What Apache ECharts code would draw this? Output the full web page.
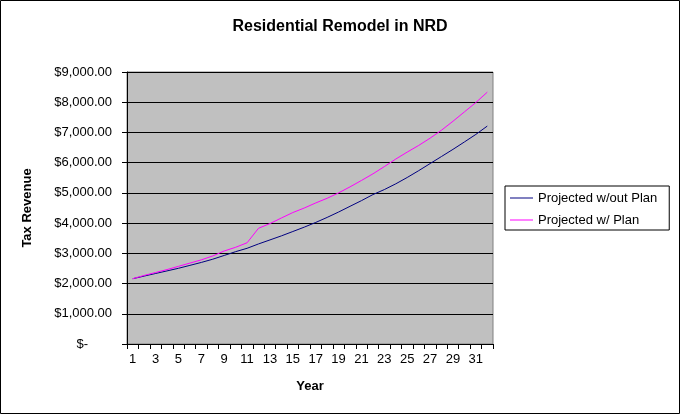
<!DOCTYPE html>
<html>
<head>
<meta charset="utf-8">
<script src="https://cdn.jsdelivr.net/npm/echarts@6/dist/echarts.min.js"></script>
<style>
html,body{margin:0;padding:0;background:#fff;}
#chart{width:680px;height:414px;}
</style>
</head>
<body>
<div id="chart"></div>
<script>
var years = [];
for (var y = 1; y <= 32; y++) years.push(String(y));
var withoutPlan = [2160, 2247, 2333, 2419, 2505, 2602, 2699, 2806, 2930, 3056, 3167, 3311, 3444, 3578, 3722, 3867, 4022, 4189, 4367, 4556, 4744, 4944, 5110, 5300, 5510, 5735, 5970, 6205, 6440, 6685, 6935, 7211];
var withPlan = [2160, 2269, 2366, 2462, 2570, 2677, 2785, 2914, 3078, 3200, 3350, 3830, 3985, 4170, 4350, 4500, 4667, 4822, 5000, 5200, 5411, 5630, 5870, 6120, 6350, 6570, 6810, 7075, 7370, 7680, 7990, 8333];
var seriesNames = ['Projected w/out Plan', 'Projected w/ Plan'];
var titleText = 'Residential Remodel in NRD';

var FONT = "'Liberation Sans', Arial, sans-serif";
var chart = echarts.init(document.getElementById('chart'), null, {renderer: 'canvas'});
chart.setOption({
  animation: false,
  backgroundColor: '#ffffff',
  textStyle: {fontFamily: FONT},
  title: {
    text: titleText, left: 'center', top: 19, padding: 0,
    textStyle: {fontFamily: FONT, fontSize: 16, fontWeight: 'bold', color: '#000'}
  },
  graphic: [{
    type: 'rect', shape: {x: 0.5, y: 0.5, width: 679, height: 413},
    style: {fill: 'none', stroke: '#000', lineWidth: 1}, silent: true, z: 100
  }],
  legend: {
    orient: 'vertical', left: 505, top: 186,
    padding: [5, 12, 3, 5], itemGap: 8, itemWidth: 23, itemHeight: 1,
    icon: 'rect',
    backgroundColor: '#fff', borderColor: '#000', borderWidth: 1,
    textStyle: {fontFamily: FONT, fontSize: 13, lineHeight: 14, color: '#000'},
    data: seriesNames
  },
  grid: {
    left: 127, right: 187, top: 72, bottom: 70,
    show: true, backgroundColor: '#C0C0C0', borderColor: '#808080', borderWidth: 1
  },
  xAxis: {
    type: 'category', data: years, boundaryGap: true,
    name: 'Year', nameLocation: 'middle', nameGap: 36,
    nameTextStyle: {fontFamily: FONT, fontSize: 13, fontWeight: 'bold', color: '#000'},
    axisLine: {lineStyle: {color: '#000', width: 1}},
    axisTick: {show: true, interval: 0, length: 5, lineStyle: {color: '#000'}},
    axisLabel: {interval: 1, margin: 9, fontFamily: FONT, fontSize: 13, color: '#000'},
    splitLine: {show: false}
  },
  yAxis: {
    type: 'value', min: 0, max: 9000, interval: 1000,
    name: 'Tax Revenue', nameLocation: 'middle', nameGap: 93, nameRotate: 90,
    nameTextStyle: {fontFamily: FONT, fontSize: 13, fontWeight: 'bold', color: '#000'},
    axisLine: {show: true, lineStyle: {color: '#000', width: 1}},
    axisTick: {show: true, length: 5, lineStyle: {color: '#000'}},
    axisLabel: {
      margin: 15, fontFamily: FONT, fontSize: 13, color: '#000',
      formatter: function (v) {
        if (v === 0) return '{z|$-}';
        return '$' + v.toLocaleString('en-US', {minimumFractionDigits: 2, maximumFractionDigits: 2});
      },
      rich: {z: {fontFamily: FONT, fontSize: 13, color: '#000', padding: [0, 24, 0, 0]}}
    },
    splitLine: {show: true, lineStyle: {color: '#000', width: 1}}
  },
  series: [
    {name: seriesNames[0], type: 'line', data: withoutPlan, symbol: 'none',
     lineStyle: {color: '#000080', width: 1}, itemStyle: {color: '#000080'}},
    {name: seriesNames[1], type: 'line', data: withPlan, symbol: 'none',
     lineStyle: {color: '#FF00FF', width: 1}, itemStyle: {color: '#FF00FF'}}
  ]
});
</script>
</body>
</html>
